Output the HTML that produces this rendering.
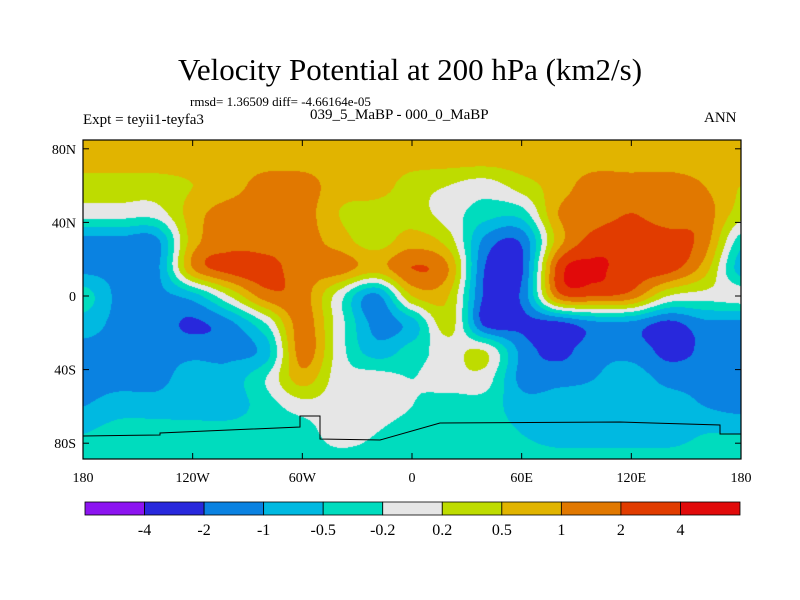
<!DOCTYPE html>
<html><head><meta charset="utf-8"><style>
body{margin:0;background:#fff;width:800px;height:600px;overflow:hidden;position:relative;font-family:"Liberation Serif",serif}
.t{position:absolute;white-space:nowrap;color:#000}
</style></head><body>
<div class="t" style="left:0;width:820px;text-align:center;top:52px;font-size:31px">Velocity Potential at 200 hPa (km2/s)</div>
<div class="t" style="left:190px;top:94px;font-size:13px">rmsd= 1.36509 diff= -4.66164e-05</div>
<div class="t" style="left:83px;top:112px;font-size:15px">Expt = teyii1-teyfa3</div>
<div class="t" style="left:310px;top:107px;font-size:15px">039_5_MaBP - 000_0_MaBP</div>
<div class="t" style="left:704px;top:110px;font-size:15px">ANN</div>
<canvas id="map" width="658" height="319" style="position:absolute;left:83px;top:140px"></canvas>
<svg id="ov" width="800" height="600" style="position:absolute;left:0;top:0"></svg>
<script>
const lats=[90,75,60,45,30,15,0,-15,-30,-45,-60,-75,-90];
const lons=[-180,-160,-140,-120,-100,-80,-60,-40,-20,0,20,40,60,80,100,120,140,160,180];
const r90=[0.75,0.75,0.75,0.75,0.75,0.75,0.75,0.75,0.75,0.75,0.75,0.75,0.75,0.75,0.75,0.75,0.75,0.75,0.75];
const r75=[0.75,0.75,0.75,0.75,0.75,0.75,0.75,0.75,0.75,0.75,0.75,0.75,0.75,0.75,0.75,0.75,0.75,0.75,0.75];
const r60=[0.35,0.35,0.35,0.5,0.75,1.5,1.5,0.75,0.75,0.35,0.2,0,0.35,0.75,1.5,1.5,1.5,1,0.5];
const r45=[0,0,0,0.75,1.5,1.5,1.5,0.5,0.35,0.35,0,-0.35,-0.35,1,1.5,2,1.5,1.5,0.35];
const r30=[-1.3,-1.3,-1.3,0.75,1.5,1.5,1.5,0.75,0.35,0.75,0.35,-1.3,-1.8,0.75,2.8,3,2.8,1.5,-0.35];
const r15=[-1.3,-1.3,-1.3,1,2.8,2.8,1.5,1.5,0.75,2,1,-2.1,-2.3,2.8,4.3,3,2.8,0.75,-0.75];
const r0=[-0.35,-1.3,-1.3,-0.75,0.2,1.5,1.5,0,-1.3,0.5,0.5,-2.4,-1.8,1.5,2,1.5,0.2,0,0];
const rS15=[-0.75,-1.3,-1.5,-2.3,-1.3,-0.2,1.5,0,-1.3,-0.75,0.35,-2.6,-2.6,-2.6,-1.3,-1.3,-2.6,-1.3,-1.3];
const rS30=[-1.3,-1.3,-1.3,-1.3,-1.3,-0.75,1.5,0,-0.75,-0.35,0,0.2,-1.3,-2.6,-1.3,-1.3,-2.6,-1.8,-1.3];
const rS45=[-1.3,-1.3,-1.3,-0.75,-0.75,-0.2,0.75,0,0,-0.2,0,0,-1.3,-1.3,-1,-0.75,-1.3,-1.3,-1.3];
const rS60=[-1,-0.75,-0.75,-0.75,-0.75,-0.35,0,0,0,-0.2,-0.35,-0.35,-0.75,-0.75,-0.75,-0.75,-0.75,-1,-1.3];
const rS75=[-0.5,-0.35,-0.35,-0.35,-0.35,-0.35,-0.35,0,-0.2,-0.35,-0.35,-0.35,-0.5,-0.75,-0.75,-0.75,-0.75,-0.5,-0.5];
const rS90=[-0.35,-0.35,-0.35,-0.35,-0.35,-0.35,-0.35,-0.35,-0.35,-0.35,-0.35,-0.35,-0.35,-0.35,-0.35,-0.35,-0.35,-0.35,-0.35];
const levels=[-4,-2,-1,-0.5,-0.2,0.2,0.5,1,2,4];
const levelLabels=["-4","-2","-1","-0.5","-0.2","0.2","0.5","1","2","4"];
const colors=["#8c14f0","#2828dc","#0a82e1","#00b9e1","#00dcbe","#e6e6e6","#bedc00","#e1b400","#e17800","#e13c00","#e10a0a"];
const lonTicks=[-180,-120,-60,0,60,120,180];
const lonLabels=["180","120W","60W","0","60E","120E","180"];
const latTicks=[80,40,0,-40,-80];
const latLabels=["80N","40N","0","40S","80S"];

const grid=[r90,r75,r60,r45,r30,r15,r0,rS15,rS30,rS45,rS60,rS75,rS90];
const X0=83,X1=741,Y0=140,Y1=459,latY0=296,pxPerLat=1.84;
const xOf=lon=>X0+(lon+180)*(X1-X0)/360;
const yOf=lat=>latY0-lat*pxPerLat;
function toU(v){
  if(v<=levels[0])return 1+(v-levels[0])/2;
  if(v>=levels[9])return 10+(v-levels[9])/2;
  for(let i=0;i<9;i++)if(v<levels[i+1])return 1+i+(v-levels[i])/(levels[i+1]-levels[i]);
}
const U=grid.map(r=>r.map(toU));
const nR=U.length,nC=U[0].length;
function cr(p0,p1,p2,p3,t){return 0.5*((2*p1)+(-p0+p2)*t+(2*p0-5*p1+4*p2-p3)*t*t+(-p0+3*p1-3*p2+p3)*t*t*t);}
function rowAt(r,j,tx){
  r=Math.max(0,Math.min(nR-1,r));
  const g=k=>{k=Math.max(0,Math.min(nC-1,k));return U[r][k];};
  return cr(g(j-1),g(j),g(j+1),g(j+2),tx);
}
const cv=document.getElementById('map'),ctx=cv.getContext('2d');
const img=ctx.createImageData(cv.width,cv.height);
const rgb=colors.map(c=>[1,3,5].map(i=>parseInt(c.substr(i,2),16)));
for(let py=0;py<cv.height;py++){
  const lat=(latY0-(py+Y0+0.5))/pxPerLat;
  let fr=(lats[0]-lat)/(lats[0]-lats[1]);fr=Math.max(0,Math.min(nR-1.0001,fr));
  const i=Math.floor(fr),ty=fr-i;
  for(let px=0;px<cv.width;px++){
    const lon=-180+(px+0.5)*360/(X1-X0);
    let fc=(lon-lons[0])/(lons[1]-lons[0]);fc=Math.max(0,Math.min(nC-1.0001,fc));
    const j=Math.floor(fc),tx=fc-j;
    const u=cr(rowAt(i-1,j,tx),rowAt(i,j,tx),rowAt(i+1,j,tx),rowAt(i+2,j,tx),ty);
    const k=Math.max(0,Math.min(10,Math.floor(u)));
    const o=(py*cv.width+px)*4,c=rgb[k];
    img.data[o]=c[0];img.data[o+1]=c[1];img.data[o+2]=c[2];img.data[o+3]=255;
  }
}
ctx.putImageData(img,0,0);

const NS='http://www.w3.org/2000/svg',svg=document.getElementById('ov');
function mk(tag,attrs,parent){const e=document.createElementNS(NS,tag);for(const k in attrs)e.setAttribute(k,attrs[k]);(parent||svg).appendChild(e);return e;}
const coast=mk('polyline',{points:"83,436 160,435 160,433 300,427 300,416 320,416 320,439 380,440 440,423 620,422 720,425 720,434 741,434",fill:"none",stroke:"#000","stroke-width":1});


const frame=mk('rect',{x:X0,y:Y0,width:X1-X0,height:Y1-Y0,fill:"none",stroke:"#000","stroke-width":1.2});


lonTicks.forEach((lon,i)=>{
  const x=xOf(lon);
  mk('line',{x1:x,x2:x,y1:Y1,y2:Y1-6,stroke:"#000"});mk('line',{x1:x,x2:x,y1:Y0,y2:Y0+6,stroke:"#000"});
  const t=mk('text',{x:x,y:482,'text-anchor':'middle','font-size':14,'font-family':'Liberation Serif, serif'});
  t.textContent=lonLabels[i];
  
  
});
latTicks.forEach((lat,i)=>{
  const y=yOf(lat);
  mk('line',{x1:X0,x2:X0+6,y1:y,y2:y,stroke:"#000"});mk('line',{x1:X1,x2:X1-6,y1:y,y2:y,stroke:"#000"});
  const t=mk('text',{x:76,y:y+5,'text-anchor':'end','font-size':14,'font-family':'Liberation Serif, serif'});
  t.textContent=latLabels[i];
  
  
});
const cbX0=85,cbX1=740,bw=(cbX1-cbX0)/colors.length;
colors.forEach((c,i)=>{
  const r=mk('rect',{x:cbX0+i*bw,y:502,width:bw,height:13,fill:c,stroke:"#000","stroke-width":0.8});
  
  
});
levelLabels.forEach((l,i)=>{
  const t=mk('text',{x:cbX0+(i+1)*bw,y:535,'text-anchor':'middle','font-size':16,'font-family':'Liberation Serif, serif'});
  t.textContent=l;
  
  
});
</script>
</body></html>
